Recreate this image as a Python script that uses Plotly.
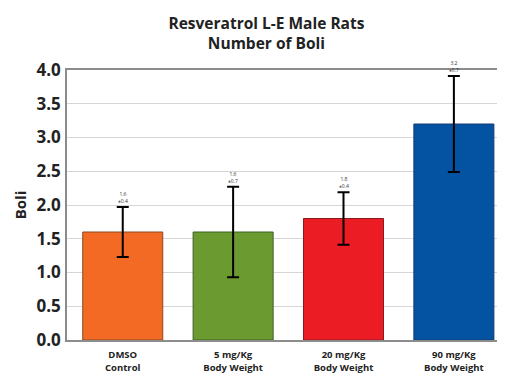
import plotly.graph_objects as go

categories = ["DMSO<br>Control", "5 mg/Kg<br>Body Weight", "20 mg/Kg<br>Body Weight", "90 mg/Kg<br>Body Weight"]
means = [1.6, 1.6, 1.8, 3.2]
errors = [0.37, 0.67, 0.39, 0.71]
mean_labels = ["1.6", "1.6", "1.8", "3.2"]
err_labels = ["±0.4", "±0.7", "±0.4", "±0.7"]
colors = ["#F26A24", "#6B9A31", "#EC1C24", "#0452A2"]
outline = ["#8a4a20", "#3f5e22", "#8a1a1a", "#123a70"]
yticks = [0, 0.5, 1.0, 1.5, 2.0, 2.5, 3.0, 3.5, 4.0]

FONT = "Open Sans"
x = list(range(len(categories)))

fig = go.Figure()
fig.add_trace(go.Bar(
    x=x, y=means, width=0.725,
    marker=dict(color=colors, line=dict(color=outline, width=1)),
    error_y=dict(type="data", array=errors, visible=True, color="black", thickness=2, width=6),
    showlegend=False, hoverinfo="skip",
))

for xi, m, e, ml, el in zip(x, means, errors, mean_labels, err_labels):
    fig.add_annotation(x=xi, y=m + e, text=f"{ml}<br>{el}", showarrow=False,
                       yanchor="bottom", yshift=1,
                       font=dict(family=FONT, size=5, color="#333333"))

# page has an 8px body margin, so the figure is sized/offset accordingly
fig.update_layout(
    width=497, height=368,
    margin=dict(l=59, r=2, t=62, b=36, autoexpand=False),
    paper_bgcolor="white", plot_bgcolor="white",
    title=dict(text="<b>Resveratrol L-E Male Rats<br>Number of Boli</b>",
               x=0.52, xanchor="center", y=0.944, yanchor="top",
               font=dict(family=FONT, size=15.5, color="#222222")),
    font=dict(family=FONT, color="#222222"),
)
fig.update_xaxes(
    tickmode="array", tickvals=x, ticktext=[f"<b>{c}</b>" for c in categories],
    range=[-0.505, 3.445], showgrid=False,
    showline=True, linecolor="#8c8c8c", linewidth=1.5, mirror=True,
    ticks="", tickfont=dict(family=FONT, size=9.5, color="#222222"),
    ticklabelstandoff=5, automargin=False,
)
fig.update_yaxes(
    range=[0, 4.0], tickmode="array", tickvals=yticks,
    ticktext=[f"<b>{v:.1f}</b>" for v in yticks],
    showgrid=True, gridcolor="#d6d6d6", gridwidth=1.2,
    showline=True, linecolor="#8c8c8c", linewidth=1.5, mirror=True,
    ticks="", tickfont=dict(family=FONT, size=17, color="#222222"),
    ticklabelstandoff=1, automargin=False,
    title=dict(text="<b>Boli</b>", font=dict(family=FONT, size=15, color="#222222"), standoff=6),
    zeroline=False,
)

fig.write_html("out.html")
